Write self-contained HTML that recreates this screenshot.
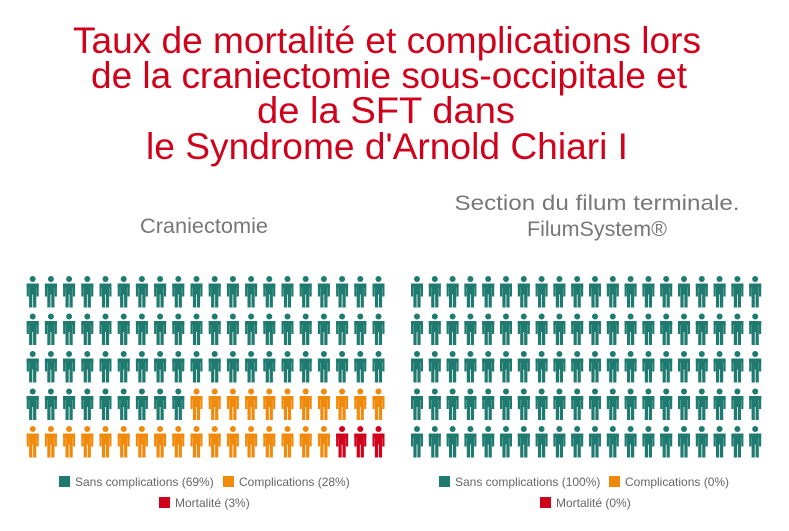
<!DOCTYPE html>
<html><head><meta charset="utf-8"><style>
body{margin:0;background:#fff;}
svg{display:block;font-family:"Liberation Sans",Arial,sans-serif;}
</style></head><body>
<svg id="s" width="789" height="531" viewBox="0 0 789 531">
<g fill="#d0021b" font-size="37" text-anchor="middle">
<text x="387" y="53" textLength="628" lengthAdjust="spacingAndGlyphs">Taux de mortalité et complications lors</text>
<text x="389" y="88" textLength="596" lengthAdjust="spacingAndGlyphs">de la craniectomie sous-occipitale et</text>
<text x="386" y="123" textLength="258" lengthAdjust="spacingAndGlyphs">de la SFT dans</text>
<text x="387" y="159" textLength="482" lengthAdjust="spacingAndGlyphs">le Syndrome d'Arnold Chiari I</text>
</g>
<g fill="#777" font-size="21" text-anchor="middle">
<text x="204" y="233" textLength="128" lengthAdjust="spacingAndGlyphs">Craniectomie</text>
<text x="597" y="210" textLength="285" lengthAdjust="spacingAndGlyphs">Section du filum terminale.</text>
<text x="597" y="236" textLength="140" lengthAdjust="spacingAndGlyphs">FilumSystem®</text>
</g>
<g id="icons"></g>
<g font-size="12" fill="#666">
<rect x="59" y="476" width="11" height="11" fill="#1f7b70"/><text x="75" y="486">Sans complications (69%)</text>
<rect x="223" y="476" width="11" height="11" fill="#f08a0c"/><text x="239" y="486">Complications (28%)</text>
<rect x="159" y="497" width="11" height="11" fill="#d0021b"/><text x="175" y="507">Mortalité (3%)</text>
<rect x="439" y="476" width="11" height="11" fill="#1f7b70"/><text x="455" y="486">Sans complications (100%)</text>
<rect x="609" y="476" width="11" height="11" fill="#f08a0c"/><text x="625" y="486">Complications (0%)</text>
<rect x="540" y="497" width="11" height="11" fill="#d0021b"/><text x="556" y="507">Mortalité (0%)</text>
</g>
</svg>
<script>
var g=document.getElementById('icons'),h='';
function icon(cx,hy,c){
 var x=cx-6,y=hy+4.5;
 return '<g fill="'+c+'"><circle cx="'+cx+'" cy="'+hy+'" r="3"/>'+
 '<rect x="'+x+'" y="'+y+'" width="12" height="4"/>'+
 '<rect x="'+x+'" y="'+y+'" width="2.2" height="13"/>'+
 '<rect x="'+(cx+3.8)+'" y="'+y+'" width="2.2" height="13"/>'+
 '<rect x="'+(cx-3.6)+'" y="'+y+'" width="7.2" height="11"/>'+
 '<rect x="'+(cx-3.6)+'" y="'+(y+10)+'" width="3.2" height="14"/>'+
 '<rect x="'+(cx+0.4)+'" y="'+(y+10)+'" width="3.2" height="14"/></g>';
}
var rows=[279,316.5,354,391.5,429];
for(var r=0;r<5;r++)for(var i=0;i<20;i++){
 var n=r*20+i,c=n<69?'#1f7b70':(n<97?'#f08a0c':'#d0021b');
 h+=icon(32.7+i*18.2,rows[r],c);
 h+=icon(417+i*17.8,rows[r],'#1f7b70');
}
g.innerHTML=h;
</script>
</body></html>
